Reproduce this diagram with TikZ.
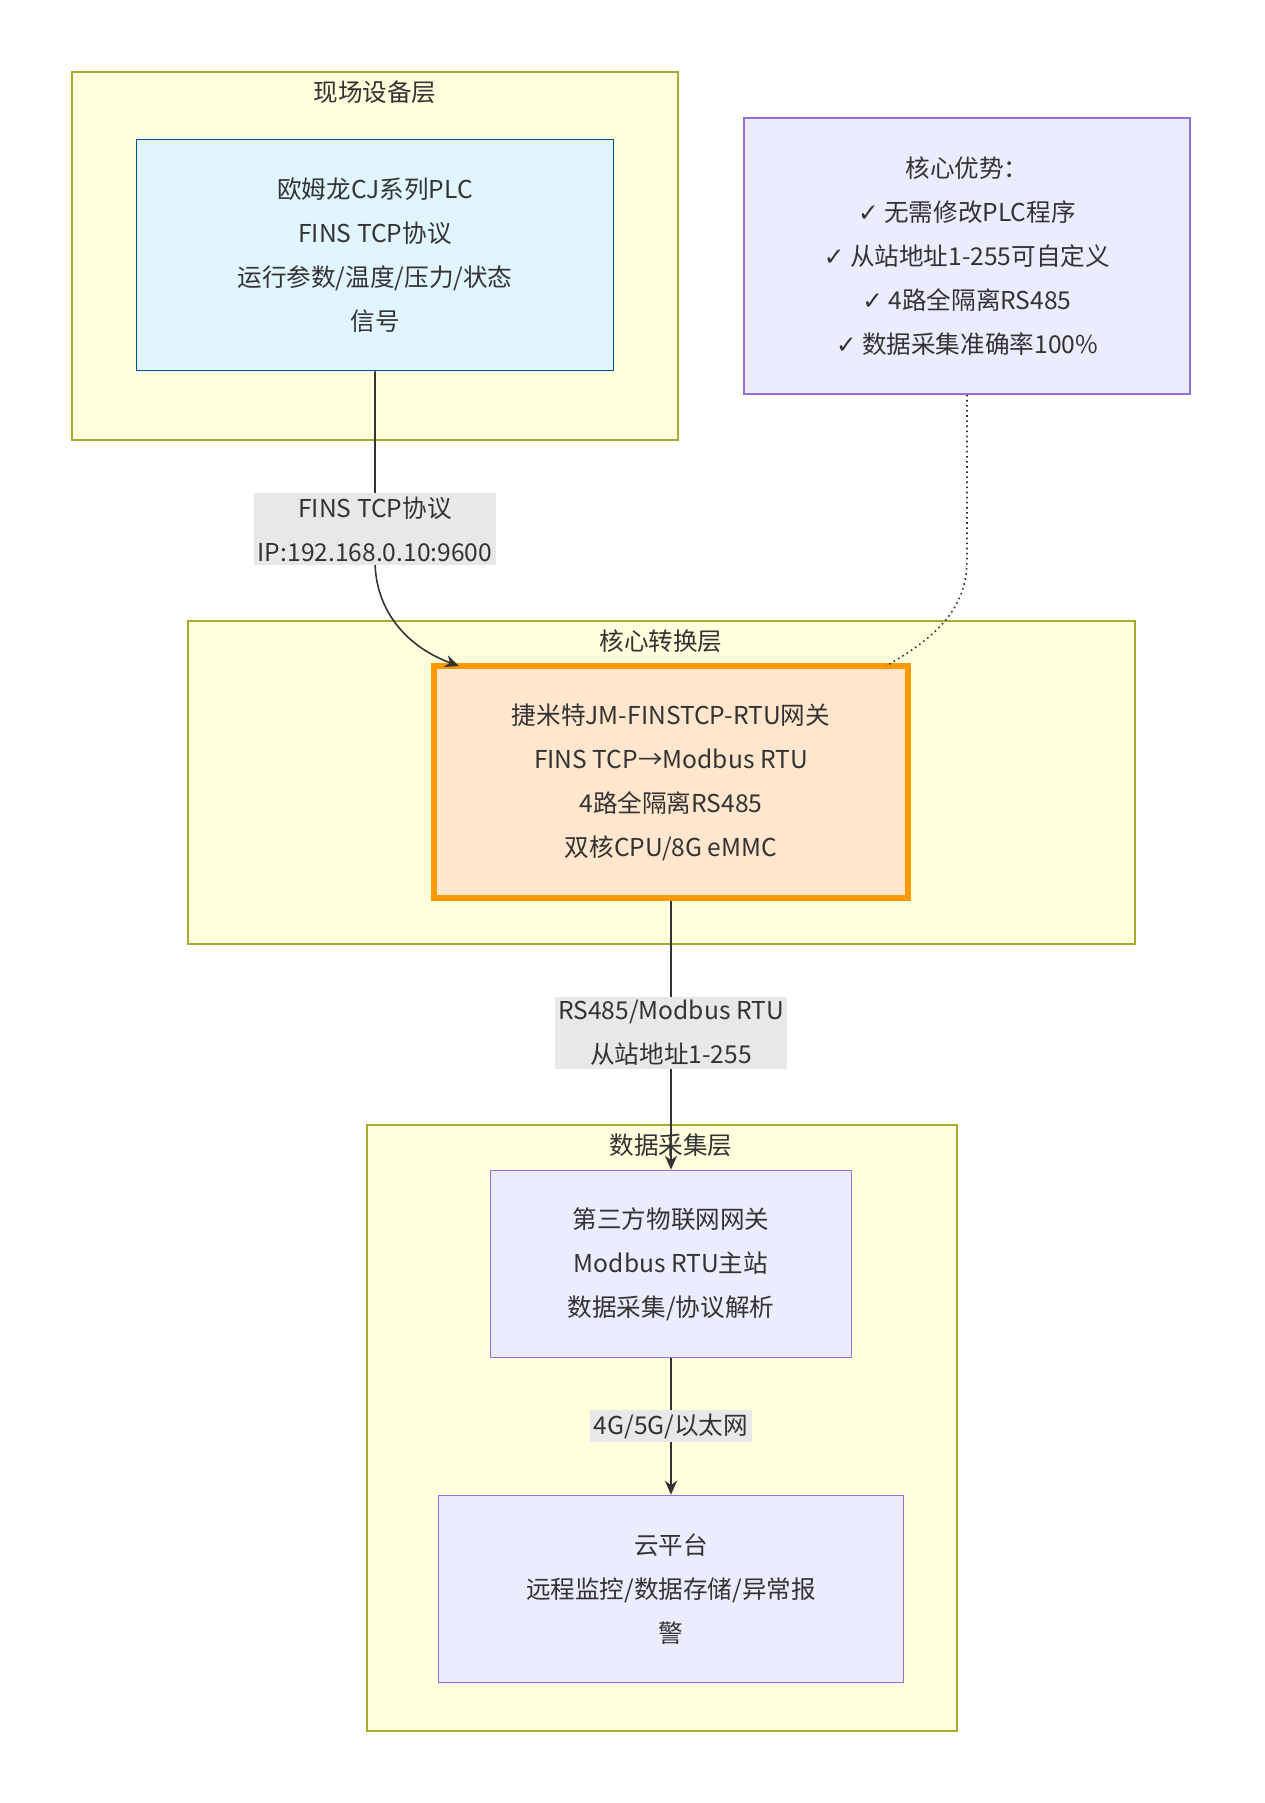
\documentclass[tikz,border=0pt]{standalone}
\usepackage{fontspec}
\setmainfont{Noto Sans CJK SC}
\newfontfamily\symfont{DejaVu Sans}
\usetikzlibrary{arrows.meta}
\newcommand{\ok}{{\symfont ✓}}
\definecolor{layerfill}{HTML}{FFFFDE}
\definecolor{layerdraw}{HTML}{AAAA33}
\definecolor{plcfill}{HTML}{E1F5FE}
\definecolor{plcdraw}{HTML}{01579B}
\definecolor{gwfill}{HTML}{FFE6CC}
\definecolor{gwdraw}{HTML}{FF9900}
\definecolor{boxfill}{HTML}{ECECFF}
\definecolor{boxdraw}{HTML}{9370DB}
\definecolor{lblfill}{HTML}{E8E8E8}
\definecolor{txt}{HTML}{333333}
\begin{document}
\begin{tikzpicture}[x=0.02cm, y=-0.02cm,
    layer/.style={draw=layerdraw, fill=layerfill, line width=1pt},
    title/.style={font=\fontsize{14}{25}\selectfont, text=txt},
    box/.style={draw=boxdraw, fill=boxfill, line width=1pt, align=center,
        font=\fontsize{14}{25}\selectfont, text=txt, inner sep=0pt},
    lbl/.style={fill=lblfill, align=center, font=\fontsize{14}{25}\selectfont,
        text=txt, inner sep=2pt},
    link/.style={draw=txt, line width=0.9pt, -{Stealth[length=8pt,width=7pt]}}]

    % Page size
    \useasboundingbox (0,0) rectangle (1265,1803);

    % Layers
    \draw[layer] (72,72) rectangle (678,440);
    \node[title] (fieldT) at (375,92) {现场设备层};
    \draw[layer] (188,621) rectangle (1135,944);
    \node[title] (coreT) at (661,641) {核心转换层};
    \draw[layer] (367,1125) rectangle (957,1731);
    \node[title] (dataT) at (671,1145) {数据采集层};

    % Boxes
    \node[box, draw=plcdraw, fill=plcfill, minimum width=9.54cm, minimum height=4.62cm]
        (plc) at (375,255) {欧姆龙CJ系列PLC\\FINS TCP协议\\运行参数/温度/压力/状态\\信号};
    \node[box, minimum width=8.92cm, minimum height=5.52cm]
        (adv) at (967,256) {核心优势：\\\ok{} 无需修改PLC程序\\\ok{} 从站地址1-255可自定义\\\ok{} 4路全隔离RS485\\\ok{} 数据采集准确率100\%};
    \node[box, draw=gwdraw, fill=gwfill, line width=3pt, minimum width=9.48cm, minimum height=4.64cm]
        (gw) at (671,782) {捷米特JM-FINSTCP-RTU网关\\FINS TCP→Modbus RTU\\4路全隔离RS485\\双核CPU/8G eMMC};
    \node[box, minimum width=7.22cm, minimum height=3.74cm]
        (iot) at (671,1264) {第三方物联网网关\\Modbus RTU主站\\数据采集/协议解析};
    \node[box, minimum width=9.3cm, minimum height=3.74cm]
        (cloud) at (671,1589) {云平台\\远程监控/数据存储/异常报\\警};

    % Connectors
    \coordinate (gwin) at (459,666);
    \draw[link] (plc.south) -- (375,560) to[out=-90, in=160] (gwin);
    \node[lbl] (l1) at (375,529) {FINS TCP协议\\IP:192.168.0.10:9600};
    \draw[link] (gw.south) -- (iot.north);
    \node[lbl] (l2) at (671,1033) {RS485/Modbus RTU\\从站地址1-255};
    \draw[link] (iot.south) -- (cloud.north);
    \node[lbl] (l3) at (671,1426) {4G/5G/以太网};
    \coordinate (gwtop) at (886,666);
    \draw[txt, line width=0.9pt, dotted] (adv.south) -- (967,560) to[out=-90, in=30] (gwtop);

\end{tikzpicture}
\end{document}
